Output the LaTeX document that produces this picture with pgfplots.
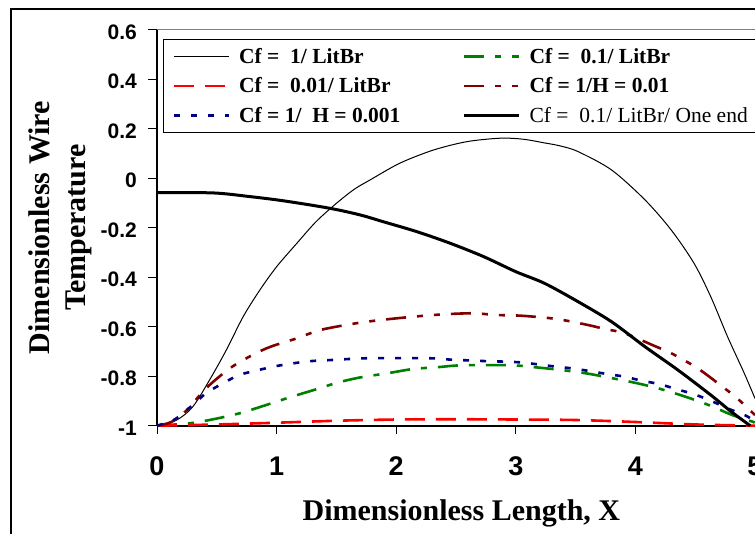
\documentclass[border=0pt]{standalone}
\usepackage{fontspec}
\setmainfont{Liberation Serif}
\newfontfamily\arialfont{Liberation Sans}
\usepackage{pgfplots}
\pgfplotsset{compat=1.18}

\definecolor{xlgreen}{RGB}{0,128,0}
\definecolor{xlred}{RGB}{255,0,0}
\definecolor{xldarkred}{RGB}{128,0,0}
\definecolor{xlnavy}{RGB}{0,0,128}
\definecolor{plotborder}{RGB}{128,128,128}

\begin{document}
\begin{tikzpicture}[x=1pt,y=1pt]
\useasboundingbox (0,0) rectangle (755,533);
% chart area frame
\draw[line width=1.3pt] (11,-20) -- (11,524) -- (800,524);
\begin{axis}[
  name=main,
  at={(157pt,107.3pt)}, anchor=south west,
  scale only axis, width=598pt, height=396.2pt,
  xmin=0, xmax=5, ymin=-1, ymax=0.6,
  clip=false,
  axis x line*=bottom, axis y line*=left,
  axis line style={-, line width=1.6pt, black},
  xtick={0,1,2,3,4,5},
  ytick={-1,-0.8,-0.6,-0.4,-0.2,0,0.2,0.4,0.6},
  tick align=outside, major tick length=8.5pt,
  tick style={black, line width=1pt},
  /pgf/number format/assume math mode=true,
  xticklabel style={font=\arialfont\bfseries\fontsize{27}{27}\selectfont, inner sep=0pt, anchor=north, yshift=-22.5pt},
  yticklabel style={font=\arialfont\bfseries\fontsize{21}{21}\selectfont, inner sep=0pt, anchor=east, xshift=-11.5pt, yshift=-2.5pt},
  xlabel={Dimensionless Length, X},
  xlabel style={at={(axis description cs:0.509,-0.2405)}, anchor=base, inner sep=0pt, font=\bfseries\fontsize{30}{36}\selectfont},
  ylabel={Dimensionless Wire\\Temperature},
  ylabel style={at={(axis description cs:-0.2157,0.5)}, anchor=north, align=center, inner sep=0pt, font=\bfseries\fontsize{30}{36}\selectfont},
  legend columns=2,
  legend image code/.code={\draw[#1] (0pt,0pt) -- (55pt,0pt);},
  legend style={
    at={(axis description cs:0.0095,0.9753)}, anchor=north west,
    draw=black, line width=1pt, fill=white,
    inner xsep=9.7pt, inner ysep=6.7pt,
    font=\bfseries\fontsize{21.5}{24}\selectfont,
    cells={anchor=west},
    nodes={inner sep=0pt, text height=17pt, text depth=3pt},
    row sep=9.5pt,
    /tikz/every odd column/.append style={column sep=8.7pt},
    /tikz/every even column/.append style={column sep=62.5pt},
  },
]
% Cf = 1/ LitBr
\addplot[black, line width=1pt, smooth] coordinates {
(0,-1) (0.165,-0.977) (0.30,-0.923) (0.44,-0.815) (0.58,-0.694) (0.72,-0.56)
(0.86,-0.452) (1.0,-0.358) (1.17,-0.263) (1.33,-0.176) (1.5,-0.102) (1.65,-0.045)
(1.78,-0.008) (2.03,0.06) (2.31,0.113) (2.59,0.147) (2.87,0.161) (3.06,0.157)
(3.24,0.142) (3.37,0.130) (3.52,0.107) (3.8,0.033) (4.08,-0.088) (4.3,-0.21)
(4.49,-0.344) (4.63,-0.479) (4.77,-0.64) (4.91,-0.788) (5.0,-0.89)};
\addlegendentry{Cf =~~1/ LitBr}
% Cf = 0.1/ LitBr
\addplot[xlgreen, line width=2.6pt, dash pattern=on 20pt off 11pt on 6pt off 11pt, smooth] coordinates {
(0,-1) (0.276,-0.99) (0.47,-0.974) (0.69,-0.95) (0.89,-0.92) (1.10,-0.887)
(1.31,-0.856) (1.51,-0.826) (1.70,-0.805) (1.93,-0.788) (2.14,-0.771) (2.34,-0.764)
(2.55,-0.756) (2.96,-0.756) (3.16,-0.764) (3.38,-0.775) (3.58,-0.788) (3.74,-0.802)
(3.99,-0.826) (4.19,-0.849) (4.40,-0.88) (4.61,-0.916) (4.81,-0.957) (4.98,-0.984) (5,-0.99)};
\addlegendentry{Cf =~~0.1/ LitBr}
% Cf = 0.01/ LitBr
\addplot[xlred, line width=2.6pt, dash pattern=on 20pt off 11pt, smooth] coordinates {
(0,-1) (0.5,-0.995) (1,-0.988) (1.5,-0.98) (2,-0.975) (2.5,-0.974) (3,-0.975)
(3.5,-0.977) (4,-0.985) (4.5,-0.995) (5,-1)};
\addlegendentry{Cf =~~0.01/ LitBr}
% Cf = 1/H = 0.01
\addplot[xldarkred, line width=2.6pt, dash pattern=on 20pt off 11pt on 6pt off 11pt on 6pt off 11pt, smooth] coordinates {
(0,-1) (0.12,-0.985) (0.25,-0.937) (0.41,-0.849) (0.61,-0.768) (0.80,-0.714)
(0.95,-0.681) (1.17,-0.647) (1.37,-0.613) (1.67,-0.586) (1.93,-0.57) (2.31,-0.553)
(2.63,-0.546) (2.84,-0.553) (3.05,-0.556) (3.34,-0.569) (3.60,-0.593) (3.74,-0.609)
(3.91,-0.627) (4.16,-0.678) (4.31,-0.71) (4.52,-0.768) (4.71,-0.836) (4.85,-0.889) (5,-0.957)};
\addlegendentry{Cf = 1/H = 0.01}
% Cf = 1/ H = 0.001
\addplot[xlnavy, line width=2.6pt, dash pattern=on 6pt off 11pt, smooth] coordinates {
(0,-1) (0.15,-0.974) (0.29,-0.92) (0.41,-0.869) (0.55,-0.829) (0.69,-0.795)
(0.85,-0.775) (1.0,-0.759) (1.14,-0.748) (1.29,-0.739) (1.45,-0.735) (1.72,-0.728)
(2.0,-0.727) (2.31,-0.728) (2.45,-0.733) (2.74,-0.739) (3.03,-0.744) (3.31,-0.76)
(3.46,-0.768) (3.60,-0.778) (3.76,-0.791) (3.91,-0.802) (4.05,-0.818) (4.20,-0.832)
(4.34,-0.852) (4.49,-0.873) (4.63,-0.899) (4.77,-0.93) (4.93,-0.961) (5,-0.985)};
\addlegendentry{Cf = 1/~~H = 0.001}
% Cf = 0.1/ LitBr, one end
\addplot[black, line width=3pt, smooth] coordinates {
(0,-0.059) (0.47,-0.06) (0.78,-0.075) (1.06,-0.092) (1.445,-0.122) (1.70,-0.149)
(1.89,-0.176) (2.17,-0.216) (2.45,-0.263) (2.73,-0.317) (3.0,-0.378) (3.24,-0.425)
(3.52,-0.499) (3.80,-0.58) (4.08,-0.681) (4.355,-0.775) (4.63,-0.876) (4.80,-0.943) (4.96,-1.0)};
\addlegendentry{\mdseries Cf =~~0.1/ LitBr/ One end}
\end{axis}
% plot area border along the top
\draw[plotborder, line width=1pt] (main.north west) -- ++(620,0);
\end{tikzpicture}
\end{document}
